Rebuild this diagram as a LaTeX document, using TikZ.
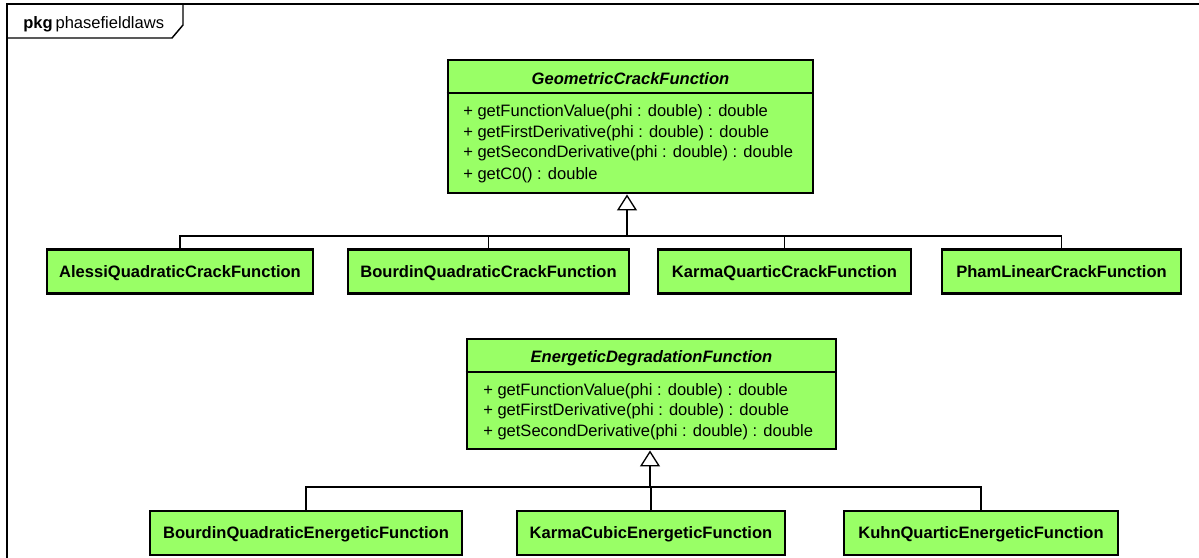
\documentclass[tikz,border=0pt]{standalone}
\usepackage{fontspec}
\setmainfont{Liberation Sans}
\usetikzlibrary{arrows.meta}
\definecolor{classgreen}{RGB}{153,255,102}

\begin{document}
\begin{tikzpicture}[x=0.75pt,y=-0.75pt,
  umlfont/.style={font=\fontsize{12.4}{15}\selectfont},
  box/.style={draw=black, fill=classgreen, line width=2.2pt, inner sep=0pt},
  leaf/.style={box, font=\fontsize{12.4}{15}\selectfont\bfseries, minimum height=32.5pt,
    text height=8.9pt, text depth=0pt},
  abstract/.style={box},
  classtitle/.style={anchor=base, inner sep=0pt, font=\fontsize{12.4}{15}\selectfont\bfseries\itshape},
  method/.style={anchor=base west, inner sep=0pt, font=\fontsize{12.4}{15}\selectfont},
  sepline/.style={line width=1pt},
  conn/.style={draw=black, line width=0.9pt},
  inherit/.style={conn, line width=1.3pt,
    -{Triangle[length=12pt, width=15pt, fill=white, line width=1pt]}},
  frameline/.style={line width=1.1pt}]

\useasboundingbox (0,0) rectangle (1199,557);
\clip (0,0) rectangle (1199,557);

% package frame with its name tab
\draw[frameline] (7,570) -- (7,4) -- (1210,4);
\draw[frameline] (183,4) -- (183,25) -- (172,38) -- (7,38);
\node[anchor=base west, inner sep=0pt, umlfont] (pkgname) at (23,28)
  {\bfseries pkg\hspace{2.2pt}\mdseries phasefieldlaws};

% abstract class GeometricCrackFunction
\node[abstract, minimum width=273.75pt, minimum height=99.75pt] (gcf) at (630.5,126.5) {};
\draw[sepline] (gcf.west |- 0,93) -- (gcf.east |- 0,93);
\node[classtitle] (gcftitle) at (630.5,84) {GeometricCrackFunction};
\node[method] (gcfm1) at (463,116.7) {+ getFunctionValue(phi : double) : double};
\node[method] (gcfm2) at (463,137.3) {+ getFirstDerivative(phi : double) : double};
\node[method] (gcfm3) at (463,157.8) {+ getSecondDerivative(phi : double) : double};
\node[method] (gcfm4) at (463,179) {+ getC0() : double};

% crack function implementations
\node[leaf, minimum width=199.5pt] (alessi) at (180,271.5) {AlessiQuadraticCrackFunction};
\node[leaf, minimum width=210.75pt] (bourdinq) at (488.5,271.5) {BourdinQuadraticCrackFunction};
\node[leaf, minimum width=189.75pt] (karmaq) at (784.5,271.5) {KarmaQuarticCrackFunction};
\node[leaf, minimum width=179.25pt] (pham) at (1061.5,271.5) {PhamLinearCrackFunction};

\coordinate (gj) at (627,236);
\foreach \c in {alessi,bourdinq,karmaq,pham}
  \draw[conn] (\c.north) |- (gj);
\draw[inherit] (gj) -- (gj |- gcf.south);

% abstract class EnergeticDegradationFunction
\node[abstract, minimum width=276.75pt, minimum height=82.5pt] (edf) at (651.5,394) {};
\draw[sepline] (edf.west |- 0,372) -- (edf.east |- 0,372);
\node[classtitle] (edftitle) at (651.5,362.3) {EnergeticDegradationFunction};
\node[method] (edfm1) at (483,395.7) {+ getFunctionValue(phi : double) : double};
\node[method] (edfm2) at (483,415.9) {+ getFirstDerivative(phi : double) : double};
\node[method] (edfm3) at (483,436.1) {+ getSecondDerivative(phi : double) : double};

% degradation function implementations
\node[leaf, minimum width=234pt, minimum height=33pt] (bourdine) at (306,533) {BourdinQuadraticEnergeticFunction};
\node[leaf, minimum width=201pt, minimum height=33pt] (karmac) at (651,533) {KarmaCubicEnergeticFunction};
\node[leaf, minimum width=205.5pt, minimum height=33pt] (kuhn) at (981,533) {KuhnQuarticEnergeticFunction};

\coordinate (ej) at (650,487);
\foreach \c in {bourdine,karmac,kuhn}
  \draw[conn] (\c.north) |- (ej);
\draw[inherit] (ej) -- (ej |- edf.south);

\end{tikzpicture}
\end{document}
